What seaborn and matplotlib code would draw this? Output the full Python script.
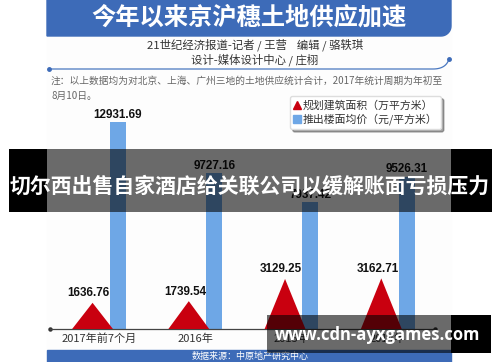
import numpy as np
import matplotlib
matplotlib.use("Agg")
import matplotlib.pyplot as plt
import seaborn as sns
from matplotlib.lines import Line2D
from matplotlib.patches import Polygon, Rectangle

categories = ["2017年前7个月", "2016年", "2015年", "2014年"]
land_area = [1636.76, 1739.54, 3129.25, 3162.71]      # 规划建筑面积（万平方米）
floor_price = [12931.69, 9727.16, 7937.42, 9526.31]   # 推出楼面均价（元/平方米）

title = "今年以来京沪穗土地供应加速"
byline1 = "21世纪经济报道-记者 / 王营    编辑 / 骆轶琪"
byline2 = "设计-媒体设计中心 / 庄栩"
note1 = "注：以上数据均为对北京、上海、广州三地的土地供应统计合计，2017年统计周期为年初至"
note2 = "8月10日。"
source = "数据来源：中原地产研究中心"
legend_labels = ["规划建筑面积（万平方米）", "推出楼面均价（元/平方米）"]
overlay_text = "切尔西出售自家酒店给关联公司以缓解账面亏损压力"
overlay_url = "www.cdn-ayxgames.com"

RED = "#c9000f"
BLUE = "#6ea7e6"
HEAD = "#3d6bb8"
NUM_FONT = ["Liberation Sans", "DejaVu Sans"]

sns.set_theme(style="white")
plt.rcParams["font.family"] = ["Noto Sans CJK SC", "DejaVu Sans"]

W, H = 500, 362
fig = plt.figure(figsize=(W / 100, H / 100), dpi=100)
fig.patch.set_facecolor("white")

# background layer in pixel coordinates
bg = fig.add_axes([0, 0, 1, 1], zorder=0)
bg.set_xlim(0, W)
bg.set_ylim(H, 0)
bg.axis("off")

# card
bg.add_patch(Rectangle((47, 0), 404, 362, color="#fdfdfd", zorder=0))
# header with rounded bottom-right corner
t = np.linspace(0, np.pi / 2, 12)
arc = np.column_stack([441 + 10 * np.cos(t), 26 + 10 * np.sin(t)])
head_pts = np.vstack([[[47, 0], [451, 0], [451, 26]], arc, [[47, 36]]])
bg.add_patch(Polygon(head_pts, closed=True, color=HEAD, zorder=1))
bg.text(249, 17, title, color="white", fontsize=17.5, fontweight="bold",
        ha="center", va="center")

bg.text(255, 45, byline1, color="#333333", fontsize=8.2, ha="center", va="center")
bg.text(255, 60, byline2, color="#333333", fontsize=8.2, ha="center", va="center")

# thin curved rule
xs = np.linspace(49, 433, 20)
ys = np.full_like(xs, 69.0)
s = np.linspace(0, 1, 15)
cx = (1 - s) ** 2 * 433 + 2 * (1 - s) * s * 446 + s ** 2 * 449
cy = (1 - s) ** 2 * 69 + 2 * (1 - s) * s * 69 + s ** 2 * 59
bg.plot(np.r_[xs, cx], np.r_[ys, cy], color="#4a78c0", lw=0.9)
bg.plot([49, 449], [69, 59], "o", color="#3d6bb8", ms=2.5)

bg.text(51, 81, note1, color="#666666", fontsize=7.0, ha="left", va="center")
bg.text(51, 96, note2, color="#666666", fontsize=7.0, ha="left", va="center")

# bottom source band
bg.add_patch(Rectangle((47, 350), 404, 12, color=HEAD, zorder=1))
bg.text(250, 356, source, color="white", fontsize=6.5, ha="center", va="center")

# main chart
ax = fig.add_axes([50 / W, 33 / H, 385 / W, 219 / H], zorder=2)
ax.patch.set_alpha(0)
sns.barplot(x=categories, y=floor_price, color=BLUE, width=0.166,
            saturation=1, ax=ax)
offset = 0.132
for p in ax.patches:
    p.set_x(p.get_x() + offset)
    p.set_edgecolor("none")

for i, v in enumerate(land_area):
    cx0 = i - offset
    ax.add_patch(Polygon([[cx0 - 0.212, 0], [cx0, v], [cx0 + 0.212, 0]],
                         closed=True, facecolor=RED, edgecolor="none", zorder=3))
    ax.text(cx0 - 0.04, v + 220, f"{v:.2f}", ha="center", va="bottom",
            fontsize=8.4, fontweight="bold", color="#111111", family=NUM_FONT)

for i, v in enumerate(floor_price):
    ax.text(i + offset, v + 90, f"{v:.2f}", ha="center", va="bottom",
            fontsize=8.4, fontweight="bold", color="#111111", family=NUM_FONT)

ax.set_xlim(-0.574, 3.426)
ax.set_ylim(0, 219 * 62.5)
ax.set_yticks([])
ax.set_xticks(np.arange(len(categories)) - 0.065)
ax.set_xticklabels(categories, fontsize=8, color="#333333")
ax.tick_params(axis="x", length=0, pad=3)
for side in ["top", "right", "left"]:
    ax.spines[side].set_visible(False)
ax.spines["bottom"].set_color("#444444")
ax.spines["bottom"].set_linewidth(0.9)
ax.plot([0, 1], [0, 0], "o", color="#333333", ms=2.2,
        transform=ax.transAxes, clip_on=False)

handles = [Line2D([], [], marker="^", color=RED, ls="none", ms=6),
           Line2D([], [], marker="s", color=BLUE, ls="none", ms=5.5)]
leg = ax.legend(handles, legend_labels, loc="upper left",
                bbox_to_anchor=(290 / W, 1 - 96 / H), bbox_transform=fig.transFigure,
                fontsize=7.8, frameon=True, fancybox=True, shadow=True,
                handlelength=0.6, handletextpad=0.2, borderpad=0.35,
                labelspacing=0.3, borderaxespad=0)
leg.get_frame().set_edgecolor("#dddddd")
leg.get_frame().set_facecolor("white")
for txt in leg.get_texts():
    txt.set_color("#333333")

# overlay layer
ov = fig.add_axes([0, 0, 1, 1], zorder=10)
ov.set_xlim(0, W)
ov.set_ylim(H, 0)
ov.axis("off")
ov.patch.set_alpha(0)

ov.add_patch(Rectangle((9, 149), 38, 63, color="black", lw=0))
ov.add_patch(Rectangle((451, 149), 41, 63, color="black", lw=0))
ov.add_patch(Rectangle((47, 149), 404, 63, color="black", alpha=0.58, lw=0))
ov.text(250, 186, overlay_text, color="white", fontsize=15, fontweight="bold",
        ha="center", va="center")

ov.add_patch(Rectangle((451, 315), 40, 38, color="black", lw=0))
ov.add_patch(Rectangle((267, 315), 184, 38, color="black", alpha=0.58, lw=0))
ov.text(378, 335, overlay_url, color="white", fontsize=12, fontweight="bold",
        ha="center", va="center", family=["Open Sans", "DejaVu Sans"])

fig.savefig("out.png", dpi=100)
